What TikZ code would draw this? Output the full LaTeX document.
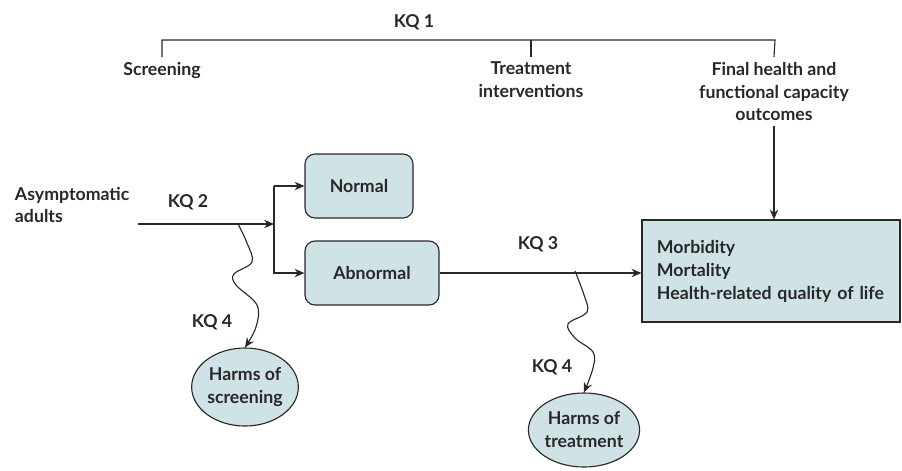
\documentclass[tikz,border=0pt]{standalone}
\usepackage{fontspec}
\setmainfont{Lato}
\usetikzlibrary{calc,arrows.meta,shapes.geometric}
\definecolor{boxfill}{RGB}{207,226,230}
\definecolor{ink}{RGB}{40,40,40}

\begin{document}
\begin{tikzpicture}[x=0.025cm,y=-0.025cm,>={Stealth[length=7pt,width=6pt]},
    every node/.style={font=\bfseries\fontsize{12.6}{16.3}\selectfont,text=ink},
    box/.style={draw=ink,fill=boxfill,rounded corners=0.25cm,line width=0.8pt},
    blob/.style={ellipse,draw=ink,fill=boxfill,line width=0.8pt,inner sep=0pt},
    wire/.style={draw=ink,line width=0.8pt}]
  \useasboundingbox (0,0) rectangle (902,470);
  % top bracket
  \node (kq1) at (414,22) {KQ 1};
  \node[anchor=north,align=center] (scr) at (162,57) {Screening};
  \node[anchor=north,align=center] (trt) at (531,57) {Treatment\\interventions};
  \node[anchor=north,align=center] (fin) at (774,57) {Final health and\\functional capacity\\outcomes};
  \coordinate (bl) at (162,40);
  \coordinate (br) at (775,40);
  \draw[wire] (scr.north) -- (bl) -- (br) -- (fin.north);
  \draw[wire] (trt.north) -- (trt.north |- bl);
  % boxes
  \node[align=left,anchor=west] (asy) at (10,205) {Asymptomatic\\adults};
  \node[box,minimum width=2.7cm,minimum height=1.6cm] (nrm) at (359,186) {Normal};
  \node[box,minimum width=3.35cm,minimum height=1.6cm] (abn) at (372,273) {Abnormal};
  \node[draw=ink,fill=boxfill,line width=0.8pt,minimum width=6.45cm,minimum height=2.55cm,
        text width=5.7cm,align=left] (outc) at (771,271) {Morbidity\\Mortality\\Health-related quality of life};
  \node[blob,minimum width=2.65cm,minimum height=1.95cm,align=center] (hs) at (245,387) {Harms of\\screening};
  \node[blob,minimum width=2.58cm,minimum height=1.85cm,align=center] (ht) at (584,430) {Harms of\\treatment};
  % labels
  \node (kq2) at (188,202) {KQ 2};
  \node (kq3) at (538,244) {KQ 3};
  \node (kq4a) at (212,322) {KQ 4};
  \node (kq4b) at (552,367) {KQ 4};
  % connectors
  \coordinate (s0) at (138,224);
  \coordinate (sp) at (274,224);
  \draw[wire,->] (s0) -- (sp);
  \draw[wire,->] (sp |- nrm.west) -- (nrm.west);
  \draw[wire,->] (sp |- nrm.west) |- (abn.west);
  \draw[wire,->] (abn.east) -- (abn.east -| outc.west);
  \draw[wire,->] (fin.south) -- (fin.south |- outc.north);
  % wavy harms arrows
  \coordinate (w1) at (238,224);
  \coordinate (w2) at (575,271);
  \draw[wire,->] plot[smooth,tension=0.6] coordinates {(w1) (247,243) (252,262) (234,274) (236,285) (257,305) (256,327) (hs.north)};
  \draw[wire,->] plot[smooth,tension=0.6] coordinates {(w2) (584,295) (587,312) (568,324) (575,338) (593,352) (593,368) (ht.north)};
\end{tikzpicture}
\end{document}
